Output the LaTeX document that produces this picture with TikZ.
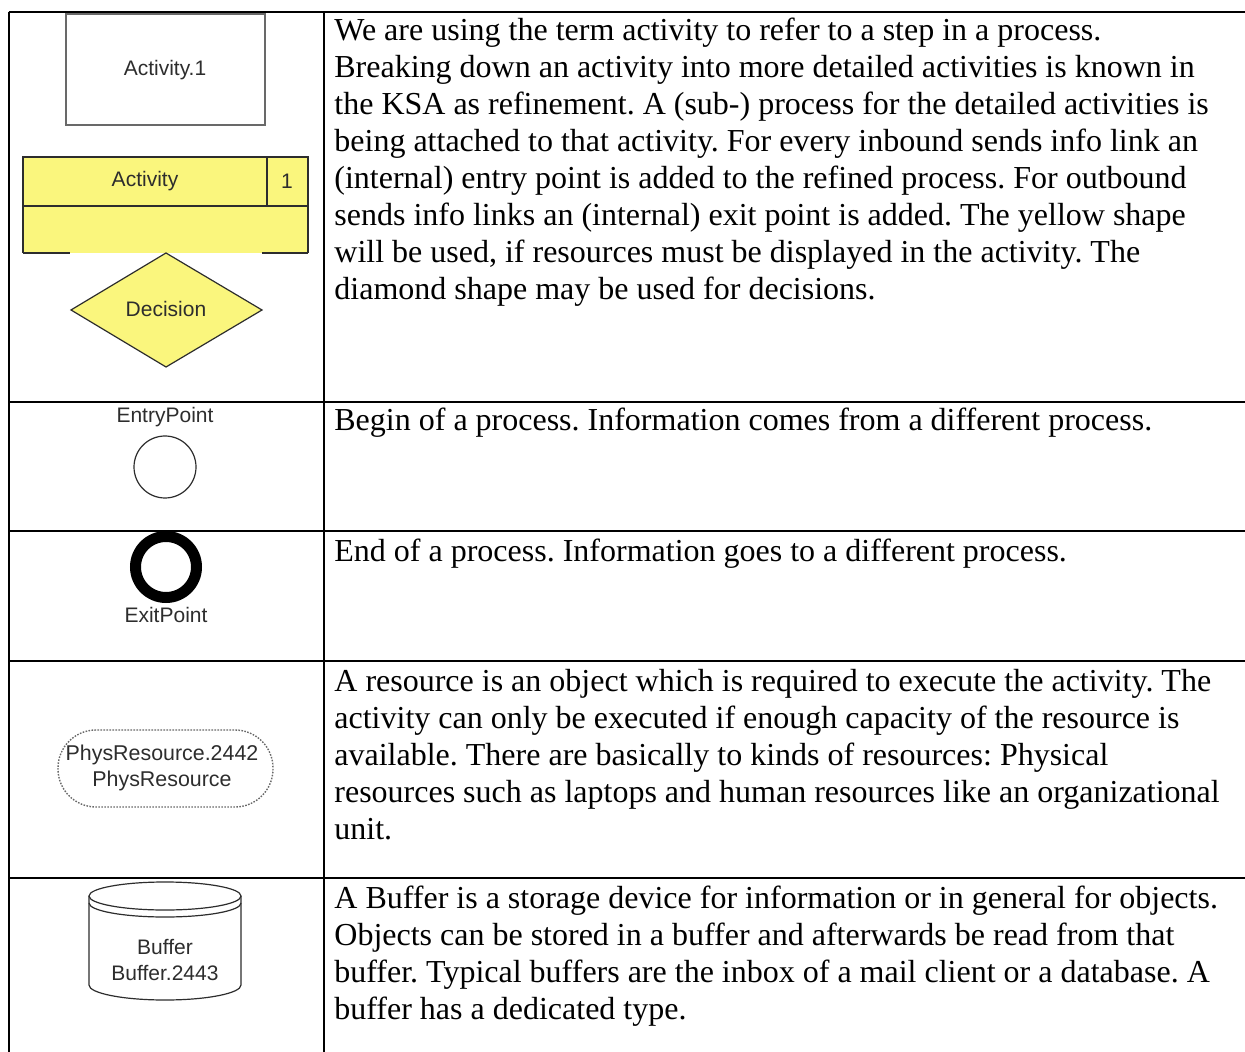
\documentclass[tikz,border=0pt]{standalone}
\usepackage{fontspec}
\setmainfont{Liberation Serif}
\newfontfamily\shapefont{Liberation Sans}
\usetikzlibrary{shapes.geometric}
\definecolor{actyellow}{RGB}{250,246,125}
\definecolor{shapegray}{RGB}{45,45,45}
\definecolor{boxgray}{RGB}{105,105,105}
\begin{document}
\frenchspacing
\begin{tikzpicture}[x=0.5pt,y=-0.5pt,
  gridline/.style={line width=1pt,black},
  desc/.style={anchor=base west, align=left, inner sep=0pt, font=\fontsize{16}{18.5}\selectfont},
  lbl/.style={inner sep=0pt, font=\shapefont\fontsize{10.5}{13}\selectfont, text=shapegray},
  outline/.style={draw=shapegray, line width=0.6pt}]
\useasboundingbox (0,0) rectangle (1245,1052);
% table grid
\draw[gridline] (8.5,12) -- (1245,12);
\draw[gridline] (9,402) -- (1245,402);
\draw[gridline] (9,531) -- (1245,531);
\draw[gridline] (9,661) -- (1245,661);
\draw[gridline] (9,878) -- (1245,878);
\draw[gridline] (9,12) -- (9,1052);
\draw[gridline] (324,12) -- (324,1052);
% Activity.1
\draw[draw=boxgray, line width=0.9pt] (66,14) rectangle (265,125);
\node[lbl] (act1) at (165,70) {Activity.1};
% yellow activity
\fill[actyellow] (23,157) rectangle (308,253);
\draw[outline] (23,253) -- (23,157) -- (308,157) -- (308,253);
\draw[outline] (23,206) -- (308,206);
\draw[outline] (267,157) -- (267,206);
\draw[outline] (23,253) -- (70,253);
\draw[outline] (262,253) -- (308,253);
\node[lbl] (act2) at (145,181) {Activity};
\node[lbl] (act2n) at (287,181) {1};
% decision
\draw[outline, fill=actyellow] (166,253) -- (262,310) -- (166,367) -- (71,310) -- cycle;
\node[lbl] (dec) at (166,309) {Decision};
% entry point
\node[lbl] (entry) at (165,417) {EntryPoint};
\draw[outline] (165,467) circle[radius=31];
% exit point
\draw[line width=5.5pt, black] (166,567) circle[radius=30.5];
\node[lbl] (exitp) at (166,615) {ExitPoint};
% phys resource
\draw[draw=boxgray, line width=0.7pt, dash pattern=on 0.8pt off 0.7pt, rounded corners=19pt] (58,730) rectangle (273,807);
\node[lbl, align=center, font=\shapefont\fontsize{10.7}{13}\selectfont] (res) at (162,768) {PhysResource.2442\\PhysResource};
% buffer
\draw[outline, fill=white] (89,896) -- (89,985) arc[start angle=180, end angle=0, x radius=76, y radius=15] -- (241,896);
\draw[outline] (165,896) ellipse [x radius=76, y radius=14];
\draw[outline] (89,903) arc[start angle=180, end angle=0, x radius=76, y radius=14];
\node[lbl, align=center] (buf) at (165,960) {Buffer\\Buffer.2443};
% descriptions (anchor = baseline of the last line)
\node[desc] (d1) at (334,300) {We are using the term activity to refer to a step in a process.\\
Breaking down an activity into more detailed activities is known in\\
the KSA as refinement. A (sub-) process for the detailed activities is\\
being attached to that activity. For every inbound sends info link an\\
(internal) entry point is added to the refined process. For outbound\\
sends info links an (internal) exit point is added. The yellow shape\\
will be used, if resources must be displayed in the activity. The\\
diamond shape may be used for decisions.};
\node[desc] (d2) at (334,431) {Begin of a process. Information comes from a different process.};
\node[desc] (d3) at (334,561) {End of a process. Information goes to a different process.};
\node[desc] (d4) at (334,839) {A resource is an object which is required to execute the activity. The\\
activity can only be executed if enough capacity of the resource is\\
available. There are basically to kinds of resources: Physical\\
resources such as laptops and human resources like an organizational\\
unit.};
\node[desc] (d5) at (334,1019) {A Buffer is a storage device for information or in general for objects.\\
Objects can be stored in a buffer and afterwards be read from that\\
buffer. Typical buffers are the inbox of a mail client or a database. A\\
buffer has a dedicated type.};
\end{tikzpicture}
\end{document}
